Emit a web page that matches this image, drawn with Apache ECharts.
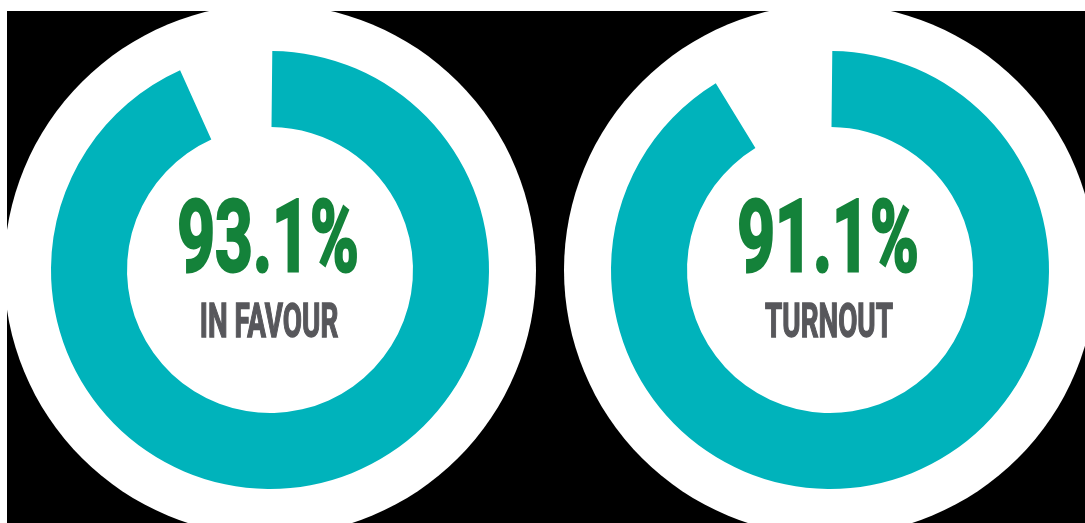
<!DOCTYPE html>
<html>
<head>
<meta charset="utf-8">
<script src="https://cdn.jsdelivr.net/npm/echarts@6/dist/echarts.min.js"></script>
<style>
html,body{margin:0;padding:0;background:#fff;}
#chart{width:1085px;height:523px;}
</style>
</head>
<body>
<div id="chart"></div>
<script>
// Data
const metricLabels = ['IN FAVOUR', 'TURNOUT'];
const metricValues = [93.1, 91.1];
const metricTexts = ['93.1%', '91.1%'];

const centersX = [270, 830];
const centerY = 270;
const TEAL = '#00B3BB';
const GREEN = '#14823A';
const GRAY = '#57575B';

const chart = echarts.init(document.getElementById('chart'), null, {renderer: 'canvas'});

const series = [];
const graphics = [
  {type: 'rect', shape: {x: 7, y: 11, width: 1078, height: 512}, style: {fill: '#000'}, z: -10, silent: true}
];

metricValues.forEach((v, i) => {
  series.push({
    type: 'pie',
    center: [centersX[i], centerY],
    radius: [0, 266],
    silent: true,
    z: 1,
    label: {show: false},
    labelLine: {show: false},
    itemStyle: {color: '#fff', borderWidth: 0},
    data: [{value: 100, name: 'bg' + i}]
  });
  series.push({
    type: 'pie',
    center: [centersX[i], centerY],
    radius: [143, 219],
    startAngle: 89.4,
    clockwise: true,
    silent: true,
    z: 2,
    label: {show: false},
    labelLine: {show: false},
    itemStyle: {borderWidth: 0},
    data: [
      {value: v, name: metricLabels[i], itemStyle: {color: TEAL}},
      {value: +(100 - v).toFixed(1), name: 'rest', itemStyle: {color: 'rgba(0,0,0,0)'}}
    ]
  });
  graphics.push({
    type: 'text',
    x: centersX[i] - 2,
    y: 246,
    scaleX: 0.66,
    z: 10,
    style: {
      text: metricTexts[i],
      font: 'bold 100px Roboto',
      fill: GREEN,
      stroke: GREEN,
      lineWidth: 3,
      align: 'center',
      verticalAlign: 'middle'
    }
  });
  graphics.push({
    type: 'text',
    x: centersX[i] - 1,
    y: 325,
    scaleX: 0.58,
    z: 10,
    style: {
      text: metricLabels[i],
      font: 'bold 48px Roboto',
      fill: GRAY,
      stroke: GRAY,
      lineWidth: 1.5,
      align: 'center',
      verticalAlign: 'middle'
    }
  });
});

chart.setOption({
  backgroundColor: '#fff',
  animation: false,
  series: series,
  graphic: {elements: graphics}
});
</script>
</body>
</html>
